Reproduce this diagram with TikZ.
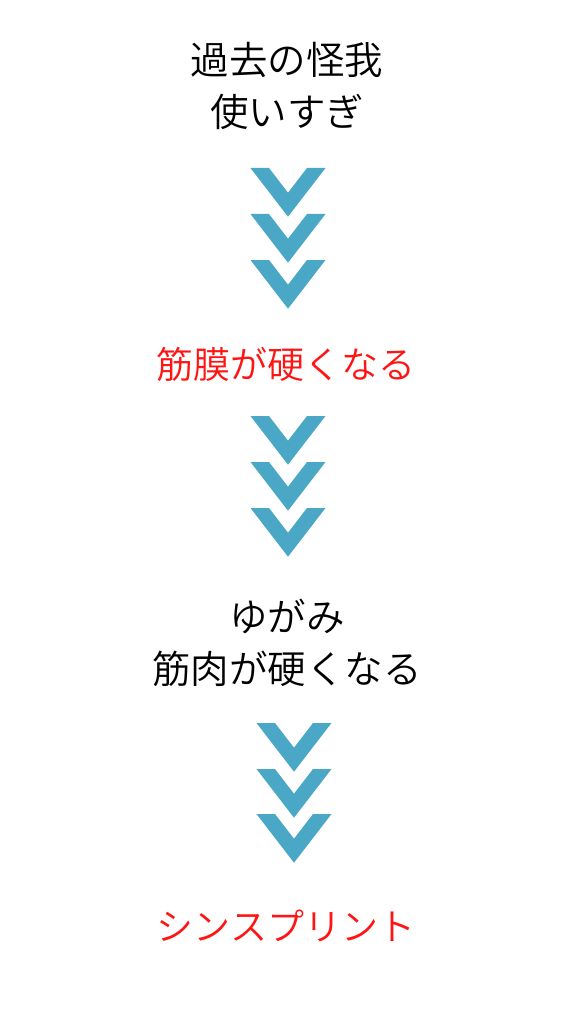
\documentclass[tikz,border=0pt]{standalone}
\usepackage{fontspec}
\newfontfamily\jp{Noto Sans CJK JP DemiLight}
\definecolor{chevblue}{HTML}{4AA8C6}
\definecolor{hotred}{HTML}{FF1414}
\tikzset{
  label text/.style={font=\jp\fontsize{38.5}{52}\selectfont, align=center, inner sep=0pt, text=black},
  red text/.style={font=\jp\fontsize{37}{50}\selectfont, align=center, inner sep=0pt, text=hotred},
  chev/.pic={\fill[chevblue] (-37.5,0) -- (-19,0) -- (0,24.7) -- (19,0) -- (37.5,0) -- (0,48.7) -- cycle;}
}
\begin{document}
\begin{tikzpicture}[x=1pt,y=-1pt]
\useasboundingbox[fill=white] (0,0) rectangle (576,1024);
\node[label text] (cause) at (287,86) {過去の怪我\\使いすぎ};
\foreach \t in {168,214,260} \pic at (288,\t) {chev};
\node[red text] (fascia) at (286,364) {筋膜が硬くなる};
\foreach \t in {416,462,508} \pic at (288,\t) {chev};
\node[label text] (muscle) at (287,642.5) {ゆがみ\\筋肉が硬くなる};
\foreach \t in {723,769,814} \pic at (294,\t) {chev};
\node[red text] (shin) at (286,926) {シンスプリント};
\end{tikzpicture}
\end{document}
